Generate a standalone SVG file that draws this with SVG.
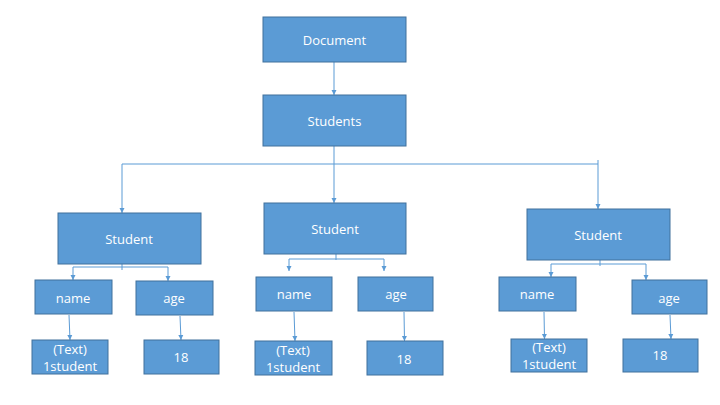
<svg xmlns="http://www.w3.org/2000/svg" width="720" height="405" viewBox="0 0 720 405">
<defs>
<marker id="ah" markerWidth="6" markerHeight="6" refX="5" refY="3" orient="auto" markerUnits="userSpaceOnUse">
<path d="M0,0.5 L5,3 L0,5.5 Z" fill="#5B9BD5"/>
</marker>
<style>
.box{fill:#5B9BD5;stroke:#41719C;stroke-width:1}
.t{fill:#FFFFFF;font-family:"Open Sans","Noto Sans","Liberation Sans",sans-serif;font-size:13px;text-anchor:middle;dominant-baseline:central}
.c{fill:none;stroke:#5B9BD5;stroke-width:1}
.a{fill:none;stroke:#5B9BD5;stroke-width:1;marker-end:url(#ah)}
</style>
</defs>
<rect width="720" height="405" fill="#FFFFFF"/>
<g id="connectors">
<path class="a" d="M334,62 V95"/>
<path class="c" d="M334,146 V164 M122,164 H598 M598,160 V164"/>
<path class="a" d="M122,164 V213"/>
<path class="a" d="M334,164 V203"/>
<path class="a" d="M598,164 V209"/>
<path class="c" d="M73,267 H168 M122,264 V270"/>
<path class="a" d="M73,267 V280"/>
<path class="a" d="M168,267 V281"/>
<path class="c" d="M289,259 H384 M336,254 V260"/>
<path class="a" d="M289,259 V271"/>
<path class="a" d="M384,259 V271"/>
<path class="c" d="M551,264 H646 M600,260 V266"/>
<path class="a" d="M551,264 V277"/>
<path class="a" d="M646,264 V280"/>
<path class="a" d="M69,315 L70,340"/>
<path class="a" d="M180,316 L181,340"/>
<path class="a" d="M294,312 L295,341"/>
<path class="a" d="M404,312 L404.5,341"/>
<path class="a" d="M544,312 L544.5,339"/>
<path class="a" d="M670,315 L671,339"/>
</g>
<g id="document"><rect class="box" x="263" y="17" width="143" height="45"/><text class="t" x="334.5" y="40">Document</text></g>
<g id="students"><rect class="box" x="263" y="95" width="143" height="51"/><text class="t" x="334.5" y="120.5">Students</text></g>
<g id="student1"><rect class="box" x="58" y="213" width="143" height="51"/><text class="t" x="129" y="239">Student</text></g>
<g id="student2"><rect class="box" x="264" y="203" width="142" height="51"/><text class="t" x="335" y="229">Student</text></g>
<g id="student3"><rect class="box" x="527" y="209" width="143" height="51"/><text class="t" x="598" y="235">Student</text></g>
<g id="name1"><rect class="box" x="35" y="280" width="77" height="34"/><text class="t" x="73" y="298">name</text></g>
<g id="age1"><rect class="box" x="136" y="281" width="77" height="34"/><text class="t" x="174" y="298">age</text></g>
<g id="name2"><rect class="box" x="256" y="277" width="76" height="34"/><text class="t" x="294" y="294">name</text></g>
<g id="age2"><rect class="box" x="358" y="277" width="75" height="34"/><text class="t" x="396" y="294">age</text></g>
<g id="name3"><rect class="box" x="499" y="277" width="77" height="34"/><text class="t" x="537" y="294">name</text></g>
<g id="age3"><rect class="box" x="632" y="280" width="75" height="34"/><text class="t" x="669" y="298">age</text></g>
<g id="text1"><rect class="box" x="32" y="340" width="76" height="34"/><text class="t" x="70" y="349">(Text)</text><text class="t" x="70" y="366">1student</text></g>
<g id="val1"><rect class="box" x="144" y="340" width="75" height="34"/><text class="t" x="181" y="357">18</text></g>
<g id="text2"><rect class="box" x="255" y="341" width="77" height="34"/><text class="t" x="293" y="350">(Text)</text><text class="t" x="293" y="367">1student</text></g>
<g id="val2"><rect class="box" x="367" y="341" width="76" height="34"/><text class="t" x="404" y="359">18</text></g>
<g id="text3"><rect class="box" x="511" y="339" width="76" height="33"/><text class="t" x="549" y="347">(Text)</text><text class="t" x="549" y="364">1student</text></g>
<g id="val3"><rect class="box" x="623" y="339" width="75" height="33"/><text class="t" x="660" y="355">18</text></g>
</svg>
